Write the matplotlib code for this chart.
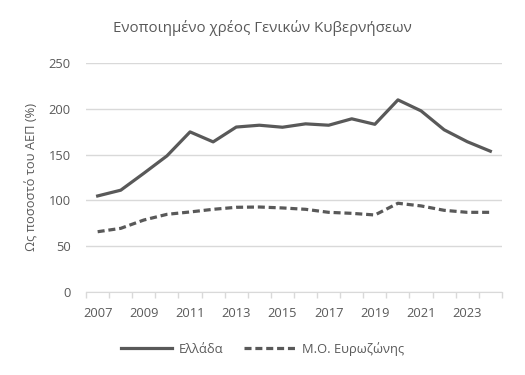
import matplotlib.pyplot as plt

# Consolidated general government debt, % of GDP
years = list(range(2007, 2025))
greece = [104.7, 111, 129.5, 148.5, 174.7, 163.8, 180, 182, 179.8, 183.5,
          182, 189, 183, 209.7, 197.7, 177, 164, 153.6]
eurozone = [65.6, 69.3, 78.4, 84.6, 87.2, 90.1, 92.3, 92.6, 91.6, 90.1,
            86.8, 85.7, 83.9, 96.7, 93.8, 89, 86.8, 86.8]

title = "Ενοποιημένο χρέος Γενικών Κυβερνήσεων"
ylabel = "Ως ποσοστό του ΑΕΠ (%)"
labels = ["Ελλάδα", "Μ.Ο. Ευρωζώνης"]

TEXT = "#595959"
GRID = "#d9d9d9"
LINE = "#595959"

plt.rcParams["font.family"] = ["Open Sans", "DejaVu Sans"]

fig = plt.figure(figsize=(5.25, 3.75), dpi=100)
ax = fig.add_axes([0.164, 0.222, 0.792, 0.61])

ax.plot(years, greece, color=LINE, linewidth=2.3, label=labels[0])
ax.plot(years, eurozone, color=LINE, linewidth=2.3, linestyle=(0, (2.2, 1.2)),
        label=labels[1])

ax.set_ylim(0, 250)
ax.set_yticks(range(0, 251, 50))
ax.set_xlim(2006.5, 2024.5)
ax.set_xticks(years[::2])
ax.set_xticks([y - 0.5 for y in years] + [2024.5], minor=True)
ax.tick_params(axis="x", which="major", length=0, pad=11, labelsize=9.3, labelcolor=TEXT)
ax.tick_params(axis="x", which="minor", length=4, color=GRID, width=1)
ax.tick_params(axis="y", length=0, pad=11, labelsize=9.3, labelcolor=TEXT)

ax.grid(axis="y", color=GRID, linewidth=1)
ax.set_axisbelow(True)
for side in ["top", "right", "left"]:
    ax.spines[side].set_visible(False)
ax.spines["bottom"].set_color(GRID)
ax.spines["bottom"].set_zorder(0)

ax.set_ylabel(ylabel, color=TEXT, fontsize=9.3, labelpad=7)
fig.text(0.5, 0.925, title, ha="center", va="center", color=TEXT, fontsize=10.8)

fig.legend(loc="center", bbox_to_anchor=(0.5, 0.07), ncol=2, frameon=False,
           fontsize=9.3, labelcolor=TEXT, handlelength=4.0, columnspacing=1.6,
           handletextpad=0.5)

fig.savefig("out.png", dpi=100)
